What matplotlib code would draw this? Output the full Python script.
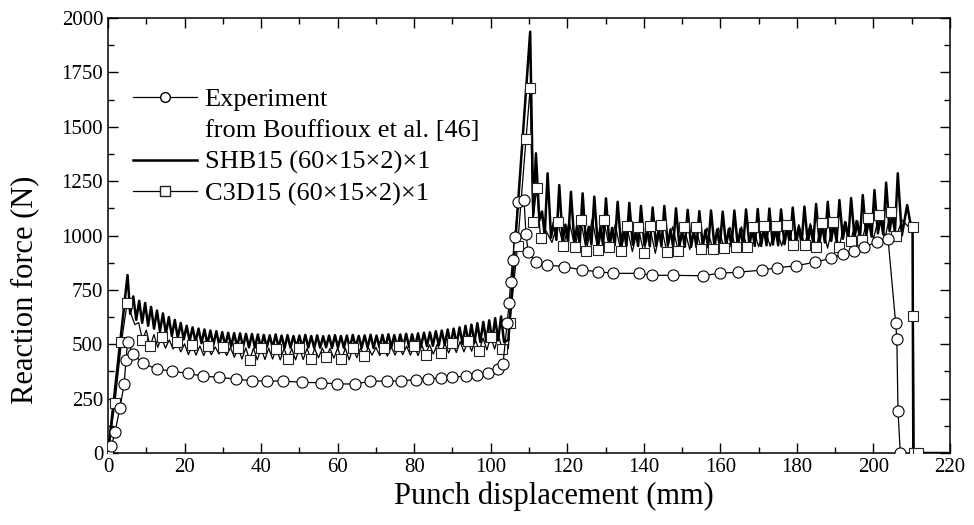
import numpy as np
import matplotlib
matplotlib.use('Agg')
import matplotlib.pyplot as plt
from matplotlib.lines import Line2D
from matplotlib.ticker import MultipleLocator

plt.rcParams['font.family'] = 'Liberation Serif'

# ---- Experiment from Bouffioux et al. [46]
exp_x = [0.9, 1.8, 3.1, 4.2, 4.7, 5.1, 6.6, 9.2, 12.7, 16.6, 20.8, 24.7, 28.9,
         33.5, 37.5, 41.6, 45.6, 50.8, 55.7, 59.9, 64.5, 68.5, 73.0, 76.6, 80.4,
         83.6, 86.9, 90.0, 93.5, 96.3, 99.4, 102.0, 103.2, 104.3, 104.8, 105.2,
         105.7, 106.3, 107.2, 108.7, 109.2, 109.8, 111.8, 114.8, 119.2, 123.9,
         128.1, 131.9, 138.8, 142.1, 147.5, 155.5, 159.8, 164.6, 170.8, 174.9,
         179.8, 184.6, 188.8, 192.0, 194.8, 197.5, 200.8, 203.8, 205.8, 206.1,
         206.4, 207.0]
exp_y = [30, 95, 205, 317, 428, 510, 455, 412, 386, 377, 366, 354, 348,
         340, 332, 331, 331, 325, 323, 318, 317, 330, 331, 331, 338,
         340, 345, 348, 354, 359, 369, 385, 409, 600, 688, 788,
         887, 994, 1155, 1163, 1005, 923, 877, 864, 857, 841,
         834, 826, 826, 817, 817, 815, 827, 831, 841, 852,
         861, 877, 895, 915, 930, 949, 968, 985, 596, 524,
         195, 0]

# ---- SHB15 (60x15x2)x1
shb_start_x = [0.0, 5.1, 5.8]
shb_start_y = [0, 818, 640]
# first stage: peaks every 1.55 mm from 6.6 mm, trough after each peak
shb1_peak = [720, 700, 690, 672, 655, 642, 625, 612, 598, 585,
             578, 572, 568, 563, 560, 556, 553, 551, 550, 548,
             547, 545, 543, 541, 545, 540, 542, 538, 540, 543,
             538, 541, 537, 540, 542, 538, 540, 543, 539, 541,
             544, 540, 543, 546, 542, 545, 548, 546, 550, 553,
             555, 560, 563, 568, 572, 578, 585, 590, 597, 603,
             610, 620, 628]
shb1_trough = [612, 598, 585, 572, 560, 548, 538, 530, 522, 515,
               510, 505, 500, 497, 495, 492, 490, 488, 487, 486,
               485, 484, 486, 483, 485, 482, 484, 486, 483, 485,
               482, 484, 486, 483, 485, 484, 482, 486, 484, 485,
               483, 486, 485, 487, 486, 488, 487, 489, 490, 492,
               493, 495, 497, 498, 500, 502, 505, 507, 510, 512,
               515, 518, 510]
shb_mid_x = [104.6, 110.3, 111.1]
shb_mid_y = [520, 1937, 1100]
# second stage: peaks every 3.05 mm from 111.8 mm
shb2_peak = [1378, 1286, 1232, 1201, 1194, 1179, 1171, 1155, 1150, 1136,
             1129, 1136, 1125, 1118, 1112, 1115, 1110, 1115, 1120, 1122,
             1124, 1120, 1129, 1133, 1145, 1155, 1163, 1172, 1186, 1209,
             1243, 1286]
shb2_trough_a = [1070, 990, 975, 965, 960, 958, 960, 955, 958, 955,
                 952, 955, 950, 948, 950, 948, 952, 950, 955, 952,
                 958, 960, 962, 965, 970, 975, 985, 990, 1000, 1010,
                 1020]
shb2_bump = [1110, 1060, 1050, 1045, 1040, 1040, 1035, 1035, 1030, 1030,
             1030, 1028, 1025, 1025, 1025, 1028, 1030, 1030, 1030, 1035,
             1035, 1040, 1040, 1045, 1050, 1055, 1060, 1065, 1075, 1085,
             1100]
shb2_trough_b = [1000, 980, 970, 962, 958, 955, 955, 952, 952, 950,
                 950, 948, 948, 946, 946, 948, 950, 950, 952, 955,
                 955, 958, 960, 962, 968, 972, 980, 985, 995, 1005,
                 1015]
shb_end_x = [207.4, 208.8, 209.6, 210.2, 210.4, 220.0]
shb_end_y = [1000, 1140, 1060, 1055, 0, 0]

# ---- C3D15 (60x15x2)x1
c3d_start_x = [0.0, 1.8, 3.5, 5.0]
c3d_start_y = [0, 230, 510, 690]
# first stage: peaks at 6, 8, ... 102 mm; troughs at 7, 9, ... 103 mm
c3d1_peak = [640, 600, 565, 545, 532, 520, 510, 502, 496, 492,
             490, 488, 486, 485, 484, 483, 482, 481, 482, 480,
             481, 480, 482, 481, 480, 482, 481, 483, 482, 484,
             483, 485, 486, 485, 488, 490, 491, 493, 495, 498,
             500, 503, 507, 512, 516, 522, 528, 535, 540]
c3d1_trough = [590, 520, 490, 486, 482, 478, 465, 452, 450, 448,
               452, 455, 448, 440, 432, 428, 428, 430, 432, 428,
               431, 428, 430, 432, 438, 440, 436, 430, 428, 438,
               445, 450, 448, 445, 450, 452, 450, 448, 452, 455,
               458, 460, 462, 465, 468, 470, 474, 478, 480]
c3d_mid_x = [104.6, 105.0, 107.0, 109.2, 110.3, 111.0, 112.0]
c3d_mid_y = [480, 600, 952, 1442, 1677, 1060, 1220]
# second stage: troughs at 113, 116, ... 206 mm; peaks at 114.5, ... 207.5 mm
c3d2_trough = [987, 968, 950, 945, 930, 933, 945, 928, 926, 920,
               918, 925, 930, 935, 938, 940, 942, 945, 945, 948,
               950, 952, 955, 958, 945, 942, 945, 975, 978, 985,
               988, 1000]
c3d2_peak = [1020, 1060, 1065, 1070, 1075, 1070, 1050, 1045, 1040, 1045,
             1048, 1040, 1038, 1040, 1035, 1035, 1038, 1040, 1040, 1042,
             1045, 1048, 1050, 1055, 1058, 1060, 1065, 1070, 1080, 1095,
             1110, 1071]
c3d_end_x = [209.1, 210.2, 210.4, 210.6, 211.7, 219.0]
c3d_end_y = [1041, 1040, 630, 0, 0, 0]


def zigzag(x0, dx, offsets, *levels):
    # interleave the level lists: one cycle per peak
    xs, ys = [], []
    for k in range(len(levels[0])):
        for off, lev in zip(offsets, levels):
            if k < len(lev):
                xs.append(x0 + dx * k + off)
                ys.append(lev[k])
    return xs, ys


x1, y1 = zigzag(6.6, 1.55, [0.0, 0.775], shb1_peak, shb1_trough)
x2, y2 = zigzag(111.8, 3.05, [0.0, 0.9, 1.6, 2.3],
                shb2_peak, shb2_trough_a, shb2_bump, shb2_trough_b)
shb_x = shb_start_x + x1 + shb_mid_x + x2 + shb_end_x
shb_y = shb_start_y + y1 + shb_mid_y + y2 + shb_end_y

cx1, cy1 = zigzag(6.0, 2.0, [0.0, 1.0], c3d1_peak, c3d1_trough)
cx2, cy2 = zigzag(113.0, 3.0, [0.0, 1.5], c3d2_trough, c3d2_peak)
c3d_x = c3d_start_x + cx1 + c3d_mid_x + cx2 + c3d_end_x
c3d_y = c3d_start_y + cy1 + c3d_mid_y + cy2 + c3d_end_y

fig = plt.figure(figsize=(9.74, 5.25), dpi=100)
ax = fig.add_axes([0.1109, 0.1371, 0.8645, 0.8286])

ax.plot(shb_x, shb_y, '-', color='black', lw=1.8, zorder=2)
ax.plot(c3d_x, c3d_y, '-', color='black', lw=0.9, marker='s', ms=7.5,
        mfc='white', mec='#222222', mew=0.8, markevery=0.04, zorder=3)
ax.plot(exp_x, exp_y, '-', color='black', lw=0.9, marker='o', ms=8,
        mfc='white', mec='black', mew=0.8, zorder=4)

ax.set_xlim(0, 220)
ax.set_ylim(0, 2000)
ax.xaxis.set_major_locator(MultipleLocator(20))
ax.xaxis.set_minor_locator(MultipleLocator(10))
ax.yaxis.set_major_locator(MultipleLocator(250))
ax.yaxis.set_minor_locator(MultipleLocator(125))
ax.tick_params(which='both', direction='in', top=True, right=True,
               labelsize=15, width=1.0)
ax.tick_params(which='major', length=7)
ax.tick_params(which='minor', length=4)
for s in ax.spines.values():
    s.set_linewidth(1.1)

ax.set_xlabel('Punch displacement (mm)', fontsize=22, labelpad=0)
ax.xaxis.set_label_coords(0.53, -0.065, transform=ax.transAxes)
ax.xaxis.label.set_va('top')
ax.set_ylabel('Reaction force (N)', fontsize=22)
ax.yaxis.set_label_coords(-0.082, 0.375, transform=ax.transAxes)

handles = [
    Line2D([], [], color='black', lw=0.9, marker='o', ms=7, mfc='white', mec='black'),
    Line2D([], [], color='none'),
    Line2D([], [], color='black', lw=1.8),
    Line2D([], [], color='black', lw=0.9, marker='s', ms=6.5, mfc='white', mec='#222222'),
]
labels = ['Experiment', 'from Bouffioux et al. [46]',
          'SHB15 (60×15×2)×1', 'C3D15 (60×15×2)×1']
ax.legend(handles, labels, loc='upper left', bbox_to_anchor=(0.03, 0.84),
          frameon=False, fontsize=19, handlelength=2.4, handletextpad=0.3,
          labelspacing=0.3, borderpad=0, borderaxespad=0)

plt.savefig('out.png', dpi=100)
